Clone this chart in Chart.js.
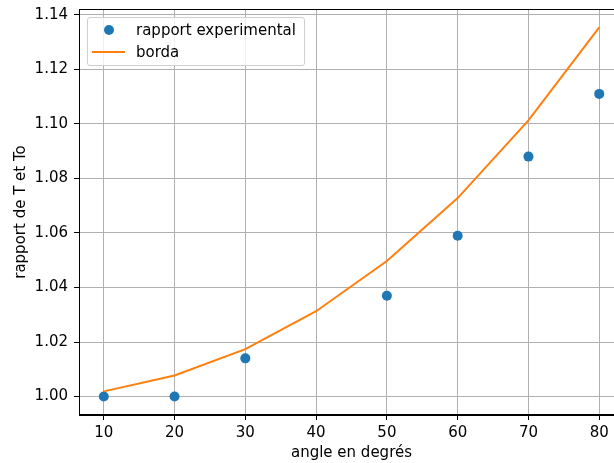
<!DOCTYPE html>
<html>
<head>
<meta charset="utf-8">
<script src="https://cdn.jsdelivr.net/npm/chart.js@4/dist/chart.umd.min.js"></script>
<style>
body{margin:0;overflow:hidden;background:#fff;font-family:"DejaVu Sans",sans-serif;}
#wrap{position:relative;width:640px;height:463px;}
#legend{position:absolute;left:87px;top:17px;width:216px;height:47px;border:1px solid #d0d0d0;border-radius:3px;background:rgba(255,255,255,0.8);font-size:15px;color:#000;}
.row{position:absolute;left:0;height:20px;line-height:20px;}
.lab{position:absolute;left:48px;white-space:nowrap;}
.dot{position:absolute;left:16px;top:5px;width:10px;height:10px;border-radius:50%;background:#1f77b4;}
.seg{position:absolute;left:4px;top:9px;width:33px;height:2px;background:#ff7f0e;}
</style>
</head>
<body>
<div id="wrap">
<canvas id="chart" width="640" height="463"></canvas>
<div id="legend">
  <div class="row" style="top:2px"><span class="dot"></span><span class="lab">rapport experimental</span></div>
  <div class="row" style="top:24px"><span class="seg"></span><span class="lab">borda</span></div>
</div>
</div>
<script>
// data
const angles = [10, 20, 30, 50, 60, 70, 80];
const rapportExp = [1.000, 1.000, 1.014, 1.037, 1.059, 1.088, 1.111];

const bordaAngles = [10, 20, 30, 40, 50, 60, 70, 80];
const borda = [1.0019, 1.0077, 1.0174, 1.0313, 1.0497, 1.0728, 1.1013, 1.1354];

const xTicks = [10, 20, 30, 40, 50, 60, 70, 80];
const yTicks = [1.00, 1.02, 1.04, 1.06, 1.08, 1.10, 1.12, 1.14];

Chart.defaults.font.family = "'DejaVu Sans', sans-serif";
Chart.defaults.font.size = 15;
Chart.defaults.color = "#000";

// box round the plot like matplotlib spines
const frame = {
  id: "frame",
  afterDraw(chart) {
    const a = chart.chartArea, ctx = chart.ctx;
    ctx.save();
    ctx.strokeStyle = "#000";
    ctx.lineWidth = 1;
    ctx.strokeRect(a.left + 0.5, a.top + 0.5, a.right - a.left - 1, a.bottom - a.top - 1);
    ctx.restore();
  }
};

new Chart(document.getElementById("chart"), {
  type: "scatter",
  data: {
    datasets: [
      {
        type: "line",
        label: "borda",
        data: bordaAngles.map((a, i) => ({x: a, y: borda[i]})),
        borderColor: "#ff7f0e",
        borderWidth: 2,
        pointRadius: 0,
        tension: 0,
        fill: false,
        order: 0
      },
      {
        label: "rapport experimental",
        data: angles.map((a, i) => ({x: a, y: rapportExp[i]})),
        backgroundColor: "#1f77b4",
        borderColor: "#1f77b4",
        pointRadius: 5,
        borderWidth: 0,
        order: 1
      }
    ]
  },
  options: {
    responsive: false,
    animation: false,
    devicePixelRatio: 1,
    layout: {padding: {top: 9, right: 16, left: 0, bottom: 0}},
    plugins: {legend: {display: false}, tooltip: {enabled: false}},
    scales: {
      x: {
        type: "linear",
        min: 6.5,
        max: 83.5,
        afterBuildTicks: s => { s.ticks = xTicks.map(v => ({value: v})); },
        afterFit: s => { s.height = 48; s.paddingLeft = 0; s.paddingRight = 0; },
        ticks: {padding: 4, callback: v => String(v)},
        grid: {color: "#b0b0b0", lineWidth: 1, tickColor: "#000", tickLength: 5},
        border: {display: true, color: "#000", width: 1},
        title: {display: true, text: "angle en degrés", padding: {top: 0, bottom: 1}}
      },
      y: {
        min: 0.99323,
        max: 1.14214,
        afterBuildTicks: s => { s.ticks = yTicks.map(v => ({value: v})); },
        afterFit: s => { s.width = 79; s.paddingTop = 0; s.paddingBottom = 0; },
        ticks: {padding: 6, callback: v => v.toFixed(2)},
        grid: {color: "#b0b0b0", lineWidth: 1, tickColor: "#000", tickLength: 5},
        border: {display: true, color: "#000", width: 1},
        title: {display: true, text: "rapport de T et To", padding: {top: 12, bottom: 0}}
      }
    }
  },
  plugins: [frame]
});
</script>
</body>
</html>
